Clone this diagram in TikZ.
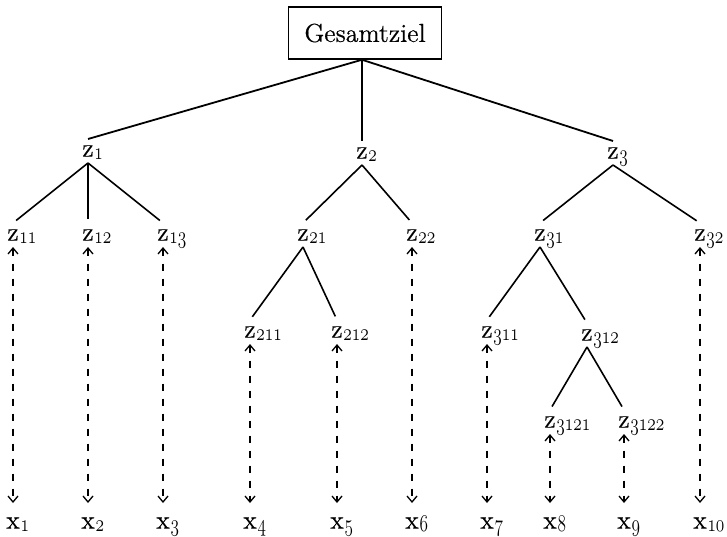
\documentclass[tikz,border=0pt]{standalone}
\usepackage{fontspec}
\usetikzlibrary{arrows.meta}
% slightly heavier text face for all labels
\newfontfamily\labfont{lmroman12-regular.otf}[FakeBold=0.5]
% old-style subscript digits, set narrow
\newcommand\osub[1]{\raisebox{-1.6pt}{\scalebox{0.72}[1]{\fontsize{11.5}{13}\usefont{OML}{cmm}{m}{it}#1}}}
% variable labels: the letter is the node, the subscript hangs to its right
\newcommand\zlab[1]{z\rlap{\smash{\kern0.4pt\osub{#1}}}}
\newcommand\xlab[1]{x\rlap{\smash{\kern0.4pt\osub{#1}}}}
\begin{document}
\begin{tikzpicture}[x=0.5pt,y=-0.5pt,
  every node/.style={font=\labfont\fontsize{13}{15}\selectfont},
  goal/.style={draw,line width=0.75pt,minimum width=76.5pt,minimum height=26pt,inner sep=0pt},
  var/.style={inner xsep=1pt,inner ysep=3pt},
  main/.style={line width=0.9pt},
  branch/.style={line width=0.8pt,shorten >=2pt},
  link/.style={line width=0.65pt,dash pattern=on 3.5pt off 4pt,
    {Straight Barb[length=3pt,width=5pt]}-{Straight Barb[length=3pt,width=5pt]},
    shorten >=4pt}
]
\useasboundingbox (0,0) rectangle (727,536);

% overall goal
\node[goal] (g) at (365,33) {Gesamtziel};

% first level
\node[var] (z1) at (88,151) {\zlab{1}};
\node[var] (z2) at (362,153) {\zlab{2}};
\node[var] (z3) at (613,153) {\zlab{3}};

% second level
\node[var] (z11) at (13,235) {\zlab{11}};
\node[var] (z12) at (88,235) {\zlab{12}};
\node[var] (z13) at (163,235) {\zlab{13}};
\node[var] (z21) at (303,235) {\zlab{21}};
\node[var] (z22) at (412,235) {\zlab{22}};
\node[var] (z31) at (540,235) {\zlab{31}};
\node[var] (z32) at (700,235) {\zlab{32}};

% third level
\node[var] (z211) at (250,332) {\zlab{211}};
\node[var] (z212) at (337,332) {\zlab{212}};
\node[var] (z311) at (487,332) {\zlab{311}};
\node[var] (z312) at (587,335) {\zlab{312}};

% fourth level
\node[var] (z3121) at (550,422) {\zlab{3121}};
\node[var] (z3122) at (624,422) {\zlab{3122}};

% measured quantities
\node[var] (x1)  at (13,523)  {\xlab{1}};
\node[var] (x2)  at (88,523)  {\xlab{2}};
\node[var] (x3)  at (163,523) {\xlab{3}};
\node[var] (x4)  at (250,523) {\xlab{4}};
\node[var] (x5)  at (337,523) {\xlab{5}};
\node[var] (x6)  at (412,523) {\xlab{6}};
\node[var] (x7)  at (487,523) {\xlab{7}};
\node[var] (x8)  at (550,523) {\xlab{8}};
\node[var] (x9)  at (624,523) {\xlab{9}};
\node[var] (x10) at (700,523) {\xlab{10}};

% goal hierarchy: the three main branches leave the box from one point above z2
\coordinate (gfoot) at (z2.north |- g.south);
\draw[main] (gfoot) -- (z1.north);
\draw[main] (gfoot) -- (z2.north);
\draw[main] (gfoot) -- (z3.north);

\draw[branch] (z1.south) -- (z11.north);
\draw[branch] (z1.south) -- (z12.north);
\draw[branch] (z1.south) -- (z13.north);
\draw[branch] (z2.south) -- (z21.north);
\draw[branch] (z2.south) -- (z22.north);
\draw[branch] (z3.south) -- (z31.north);
\draw[branch] (z3.south) -- (z32.north);
\draw[branch] (z21.south) -- (z211.north);
\draw[branch] (z21.south) -- (z212.north);
\draw[branch] (z31.south) -- (z311.north);
\draw[branch] (z31.south) -- (z312.north);
\draw[branch] (z312.south) -- (z3121.north);
\draw[branch] (z312.south) -- (z3122.north);

% links between goals and measured quantities
\draw[link] (z11.south) -- (x1.north);
\draw[link] (z12.south) -- (x2.north);
\draw[link] (z13.south) -- (x3.north);
\draw[link] (z211.south) -- (x4.north);
\draw[link] (z212.south) -- (x5.north);
\draw[link] (z22.south) -- (x6.north);
\draw[link] (z311.south) -- (x7.north);
\draw[link] (z3121.south) -- (x8.north);
\draw[link] (z3122.south) -- (x9.north);
\draw[link] (z32.south) -- (x10.north);
\end{tikzpicture}
\end{document}
